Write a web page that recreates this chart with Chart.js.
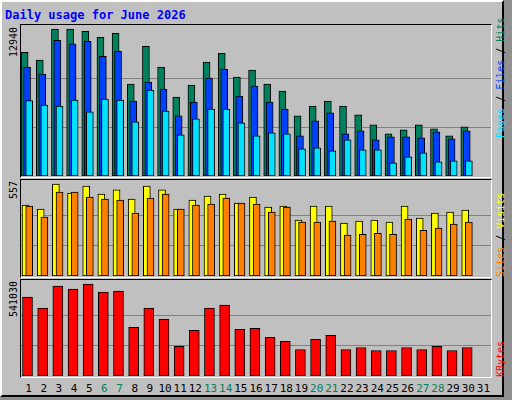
<!DOCTYPE html>
<html><head><meta charset="utf-8">
<script src="https://cdn.jsdelivr.net/npm/chart.js@4/dist/chart.umd.min.js"></script>
<style>
body{margin:0;width:512px;height:400px;background:#909090;overflow:hidden;font-family:"DejaVu Sans Mono",monospace;}
#outer{position:absolute;left:0;top:0;width:500px;height:393px;background:#C0C0C0;border-left:2px solid #fff;border-top:2px solid #fff;border-right:2px solid #000;border-bottom:2px solid #000;}
.panel{position:absolute;left:20px;width:470px;border-left:1px solid #000;border-top:1px solid #000;border-right:1px solid #fff;border-bottom:1px solid #fff;}
canvas{position:absolute;}
.t{position:absolute;white-space:nowrap;font-size:11px;}
.rot{position:absolute;transform-origin:0 0;transform:rotate(-90deg);white-space:nowrap;font-size:10px;line-height:12px;}
</style></head><body>
<div id="outer"></div>
<div class="t" style="left:5px;top:8px;color:#0000FF;font-weight:bold;font-size:12px;">Daily usage for June 2026</div>
<div class="panel" style="top:24px;height:152px;"></div>
<div class="panel" style="top:179px;height:97px;"></div>
<div class="panel" style="top:279px;height:97px;"></div>
<canvas id="c1" style="left:21px;top:25px;" width="470" height="151"></canvas>
<canvas id="c2" style="left:21px;top:180px;" width="470" height="96"></canvas>
<canvas id="c3" style="left:21px;top:280px;" width="470" height="96"></canvas>
<div class="rot" style="left:8px;top:57px;">12940</div>
<div class="rot" style="left:8px;top:199px;">557</div>
<div class="rot" style="left:8px;top:317px;">541030</div>
<div class="rot" style="left:495px;top:138px;"><span style="color:#00E0FF">Pages</span> / <span style="color:#0040FF">Files</span> / <span style="color:#00805C">Hits</span></div>
<div class="rot" style="left:495px;top:277px;"><span style="color:#FF8000">Sites</span> / <span style="color:#FFFF00">Visits</span></div>
<div class="rot" style="left:495px;top:377px;"><span style="color:#FF0000">KBytes</span></div>
<div id="xl"></div>
<script>
const days = Array.from({length:31},(_,i)=>i+1);
const weekends = [6,7,13,14,20,21,27,28];
const hits = [10896,10194,12940,12940,12736,12210,12560,8091,11421,9581,6952,8004,10019,10808,8705,9318,8091,7478,5287,6163,6601,6163,5375,4498,3710,4060,4498,4148,3534,4323,0];
const files = [9581,8967,11947,11626,11859,10545,10983,6601,8266,7653,5287,6514,8617,9406,7040,7916,6514,5900,3534,4849,5550,3710,3973,3184,3447,3447,3359,3885,3272,3973,0];
const pages = [6631,6251,6163,6689,5638,6777,6689,4761,7565,5725,3622,5024,5900,5900,4674,3534,3797,3710,2395,2483,2220,3184,2308,2308,1168,1694,2045,1256,1344,1344,0];
const visits = [429,405,557,502,545,496,521,466,545,521,405,460,484,496,442,478,417,423,338,423,423,320,332,338,326,423,350,381,387,399,0];
const sites = [423,356,508,508,478,466,460,381,472,496,405,429,435,472,442,435,387,417,326,326,332,247,253,259,253,344,277,290,314,326,0];
const kbytes = [464031,398869,529193,511421,541030,493650,499574,286317,398869,333707,173765,268546,398869,416641,274469,280393,227079,203384,155993,215231,238927,155993,167841,150070,150070,167841,155993,173765,150070,167841,0];
const maxLabels = [12940, 557, 541030];

const xl = document.getElementById('xl');
days.forEach(d=>{
  const e=document.createElement('div');e.className='t';
  e.textContent=d;
  e.style.color = weekends.includes(d)?'#00805C':'#000';
  e.style.top='382px';
  e.style.left=(21+ (d-0.5)*470/31)+'px';
  e.style.transform='translateX(-50%)';
  xl.appendChild(e);
});

const gridPlugin={id:'grid',beforeDatasetsDraw(ch){
  const y=ch.scales.y, ctx=ch.ctx, m=ch.options.plugins.grid.m;
  ctx.save();ctx.strokeStyle='#808080';ctx.lineWidth=1;
  [m/3,2*m/3].forEach(v=>{const p=Math.round(y.getPixelForValue(v))+0.5;ctx.beginPath();ctx.moveTo(0,p);ctx.lineTo(ch.width,p);ctx.stroke();});
  ctx.restore();}};

function mk(id, sets, m, h){
  const max = m*h/(h-4);
  new Chart(document.getElementById(id),{type:'bar',
    data:{datasets:sets.map(s=>({data:s.v.map((v,i)=>({x:days[i]+s.o,y:v})),backgroundColor:s.c,borderColor:'#000',borderWidth:1,barThickness:s.w,order:s.ord,grouped:false,borderSkipped:false}))},
    options:{responsive:false,animation:false,events:[],layout:{padding:0},
      plugins:{legend:{display:false},tooltip:{enabled:false},grid:{m}},
      scales:{x:{type:'linear',min:0.5,max:31.5,offset:false,display:false},y:{min:0,max,display:false}}},
    plugins:[gridPlugin]});
}
mk('c1',[{v:hits,c:'#00805C',o:-0.26,w:7,ord:3},{v:files,c:'#0040FF',o:-0.1,w:7,ord:2},{v:pages,c:'#00E0FF',o:0.04,w:7,ord:1}],maxLabels[0],151);
mk('c2',[{v:visits,c:'#FFFF00',o:-0.2,w:7,ord:2},{v:sites,c:'#FF8000',o:0.04,w:7,ord:1}],maxLabels[1],96);
mk('c3',[{v:kbytes,c:'#FF0000',o:-0.07,w:10,ord:1}],maxLabels[2],96);
</script></body></html>
